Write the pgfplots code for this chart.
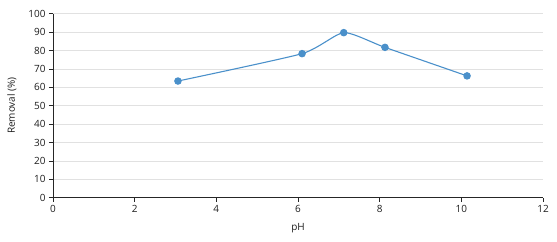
\documentclass[border=0pt]{standalone}
\usepackage{fontspec}
\setmainfont{Open Sans}
\usepackage{pgfplots}
\pgfplotsset{compat=1.18}
\definecolor{ser}{RGB}{74,144,202}
\definecolor{grd}{RGB}{225,225,225}
\definecolor{txt}{RGB}{30,30,30}
\begin{document}
\begin{tikzpicture}
\begin{axis}[
  scale only axis, width=490bp, height=184bp,
  xmin=0, xmax=12, ymin=0, ymax=100,
  xtick={0,2,...,12}, ytick={0,10,...,100},
  axis lines=left, axis line style={-, black!85, line width=0.8pt},
  tick style={black!85, line width=0.6pt}, tick align=outside, major tick length=4bp,
  ymajorgrids, grid style={grd, line width=0.7pt},
  font=\fontsize{10}{11}\selectfont, text=txt,
  /pgf/number format/assume math mode=true,
  xlabel={pH}, ylabel={Removal (\%)},
  xlabel style={at={(axis description cs:0.5,-0.165)}, anchor=center},
  ylabel style={at={(axis description cs:-0.084,0.5)}, anchor=center},
  clip=false,
]
\addplot[ser, line width=1.1pt, smooth, tension=0.35, mark=*, mark size=3.2pt, mark options={fill=ser, draw=ser}]
  coordinates {(3.06,63.4) (6.1,78.3) (7.12,89.7) (8.13,81.7) (10.14,66.2)};
\end{axis}
\path[use as bounding box] (-53bp,-44.3bp) rectangle (504bp,197.7bp);
\end{tikzpicture}
\end{document}
